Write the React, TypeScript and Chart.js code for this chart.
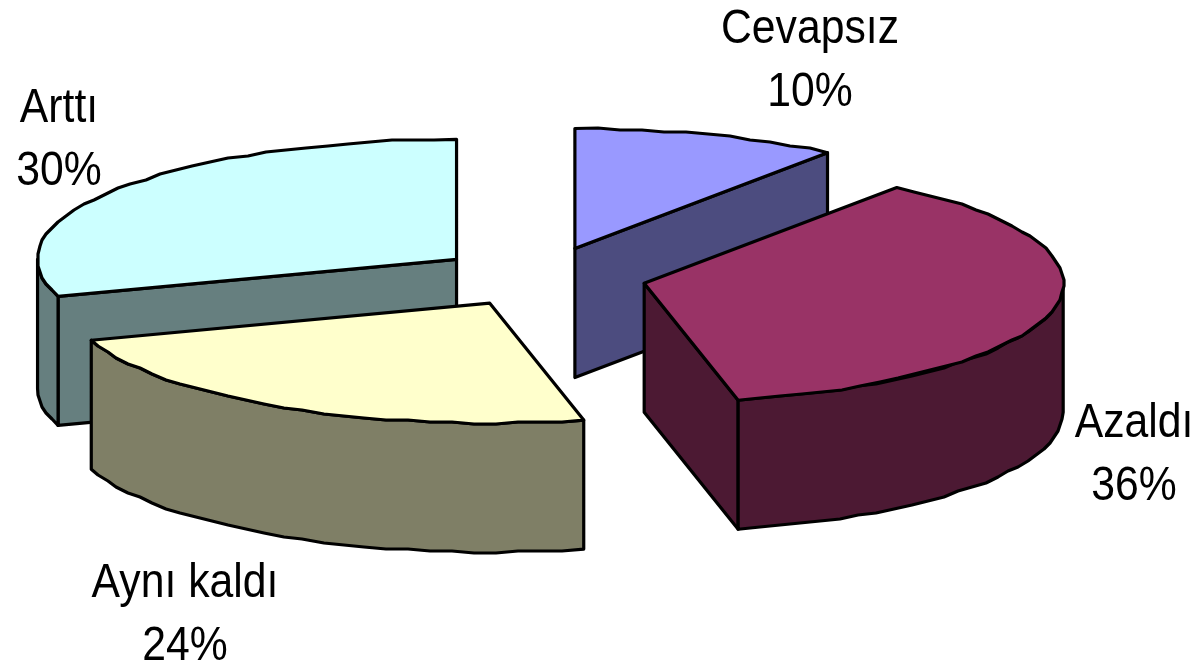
import React, { useEffect, useRef } from "react";
import { Chart, registerables } from "chart.js";

Chart.register(...registerables);

const categories = ["Cevapsız", "Azaldı", "Aynı kaldı", "Arttı"];
const values = [10.3, 36.1, 23.6, 30];
const topColors = ["#9999FF", "#993366", "#FFFFCC", "#CCFFFF"];
const wallColors = ["#4C4C7F", "#4C1933", "#7F7F66", "#667F7F"];
const labelCenters = [
  [810, 43],
  [1134, 437],
  [185, 597],
  [59, 122],
];
const paintOrder = [0, 3, 1, 2];

const RADIUS = 419;
const TILT = 120 / 419;
const DEPTH = 129;
const EXPLODE = 105;
const LINE_STEP = 63;
const FACET = (3 * Math.PI) / 180;
const GRID = 2;

const snap = (v: number) => Math.round(v / GRID) * GRID;

const pie3d = {
  id: "pie3d",
  beforeDatasetDraw(chart: any, args: any) {
    const ctx = chart.ctx;
    const arcs = args.meta.data;
    ctx.save();
    ctx.lineWidth = 3.2;
    ctx.strokeStyle = "#000";
    ctx.lineJoin = "round";
    for (const i of paintOrder) {
      const a = arcs[i];
      const off = a.options.offset / 4;
      const mid = (a.startAngle + a.endAngle) / 2;
      const cx = a.x + Math.cos(mid) * off;
      const cy = a.y + Math.sin(mid) * off * TILT;
      const rx = a.outerRadius;
      const ry = rx * TILT;
      const pt = (t: number): [number, number] => [
        cx + Math.cos(t) * rx,
        cy + Math.sin(t) * ry,
      ];
      // Rim traced from t0 to t1 as short, slightly stepped facets
      const rim = (t0: number, t1: number, dy: number) => {
        const n = Math.max(1, Math.round(Math.abs(t1 - t0) / FACET));
        for (let k = 0; k <= n; k++) {
          const [x, y] = pt(t0 + ((t1 - t0) * k) / n);
          if (k === 0 || k === n) ctx.lineTo(x, y + dy);
          else ctx.lineTo(snap(x), snap(y) + dy);
        }
      };
      const radialWall = (t: number) => {
        const [px, py] = pt(t);
        ctx.beginPath();
        ctx.moveTo(cx, cy);
        ctx.lineTo(px, py);
        ctx.lineTo(px, py + DEPTH);
        ctx.lineTo(cx, cy + DEPTH);
        ctx.closePath();
        ctx.fillStyle = wallColors[i];
        ctx.fill();
        ctx.stroke();
      };
      // Walls facing the viewer
      if (Math.cos(a.startAngle) < -1e-6) radialWall(a.startAngle);
      if (Math.cos(a.endAngle) > 1e-6) radialWall(a.endAngle);
      const from = Math.max(a.startAngle, 0);
      const to = Math.min(a.endAngle, Math.PI);
      if (to > from) {
        ctx.beginPath();
        rim(from, to, 0);
        rim(to, from, DEPTH);
        ctx.closePath();
        ctx.fillStyle = wallColors[i];
        ctx.fill();
        ctx.stroke();
      }
      // Top face
      ctx.beginPath();
      ctx.moveTo(cx, cy);
      rim(a.startAngle, a.endAngle, 0);
      ctx.closePath();
      ctx.fillStyle = topColors[i];
      ctx.fill();
      ctx.stroke();
    }
    ctx.restore();
    return false;
  },
  afterDatasetsDraw(chart: any) {
    const ctx = chart.ctx;
    const total = values.reduce((s, v) => s + v, 0);
    ctx.save();
    ctx.fillStyle = "#000";
    ctx.font = '48px "Liberation Sans"';
    ctx.textAlign = "center";
    ctx.textBaseline = "alphabetic";
    categories.forEach((name, i) => {
      const [x, y] = labelCenters[i];
      const lines = [name, `${Math.round((values[i] / total) * 100)}%`];
      lines.forEach((t, j) => {
        ctx.save();
        ctx.translate(x, y + j * LINE_STEP);
        ctx.scale(0.89, 1);
        ctx.fillText(t, 0, 0);
        ctx.restore();
      });
    });
    ctx.restore();
  },
};

export default function App() {
  const ref = useRef<HTMLCanvasElement>(null);
  useEffect(() => {
    const chart = new Chart(ref.current!, {
      type: "pie",
      data: {
        labels: categories,
        datasets: [
          {
            data: values,
            backgroundColor: topColors,
            borderColor: "#000",
            borderWidth: 3.2,
            offset: EXPLODE * 4,
          },
        ],
      },
      options: {
        animation: false,
        responsive: false,
        radius: RADIUS,
        layout: { padding: { right: 120, bottom: 114 } },
        plugins: {
          legend: { display: false },
          tooltip: { enabled: false },
        },
      } as any,
      plugins: [pie3d],
    });
    return () => chart.destroy();
  }, []);
  return (
    <canvas
      ref={ref}
      width={1203}
      height={668}
      style={{ position: "absolute", left: 0, top: 0, width: 1203, height: 668, background: "#fff" }}
    />
  );
}
